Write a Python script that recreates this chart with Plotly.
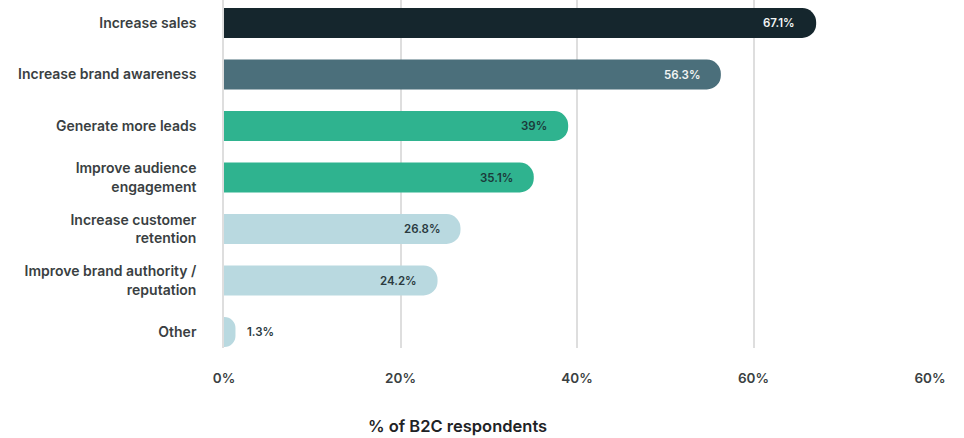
import plotly.graph_objects as go

# Survey answers (share of B2C respondents, %)
categories = [
    "Increase sales",
    "Increase brand awareness",
    "Generate more leads",
    "Improve audience<br>engagement",
    "Increase customer<br>retention",
    "Improve brand authority /<br>reputation",
    "Other",
]
values = [67.1, 56.3, 39, 35.1, 26.8, 24.2, 1.3]
value_labels = ["67.1%", "56.3%", "39%", "35.1%", "26.8%", "24.2%", "1.3%"]

tick_values = [0, 20, 40, 60, 80]
tick_labels = ["0%", "20%", "40%", "60%", "60%"]

bar_colors = ["#15262d", "#4b6f7b", "#2fb38f", "#2fb38f", "#b9d9e0", "#b9d9e0", "#b9d9e0"]
label_colors = ["#f2f4f4", "#f2f4f4", "#1b3a3a", "#1b3a3a", "#2a3a40", "#2a3a40", "#2a3a40"]

FONT = "Inter, 'Open Sans', sans-serif"

fig = go.Figure()
fig.add_trace(go.Bar(
    x=values,
    y=categories,
    orientation="h",
    marker=dict(color=bar_colors, cornerradius=15, line=dict(width=0)),
    hoverinfo="skip",
))

# value labels: inside the rounded end for long bars, just past it for short ones
for cat, v, lab, col in zip(categories, values, value_labels, label_colors):
    inside = v > 10
    fig.add_annotation(
        x=v, y=cat, xref="x", yref="y",
        text=lab, showarrow=False,
        xanchor="right" if inside else "left",
        xshift=-19 if inside else 10,
        font=dict(family=FONT, size=11.5, color=col, weight=600),
    )

# axis caption
fig.add_annotation(
    x=0.331, y=-0.225, xref="paper", yref="paper",
    text="% of B2C respondents", showarrow=False,
    xanchor="center", yanchor="middle",
    font=dict(family=FONT, size=16.5, color="#1f2326", weight=600),
)

fig.update_layout(
    width=964, height=438,
    margin=dict(l=224, r=34, t=0, b=90),
    paper_bgcolor="white",
    plot_bgcolor="white",
    bargap=0.42,
    showlegend=False,
    font=dict(family=FONT, color="#3a3f42"),
)
fig.update_xaxes(
    range=[0, 80],
    tickvals=tick_values,
    ticktext=tick_labels,
    showgrid=True, gridcolor="#dedede", gridwidth=1.5,
    zeroline=False, showline=False,
    ticks="", ticklabelstandoff=20,
    tickfont=dict(family=FONT, size=13.5, color="#3a3f42", weight=600),
)
fig.update_yaxes(
    range=[6.31, -0.447],
    showgrid=False, zeroline=False,
    showline=True, linecolor="#dedede", linewidth=1.5,
    ticks="", ticklabelstandoff=23,
    tickfont=dict(family=FONT, size=14, color="#3a3f42", weight=600),
)

fig.write_html("out.html")
